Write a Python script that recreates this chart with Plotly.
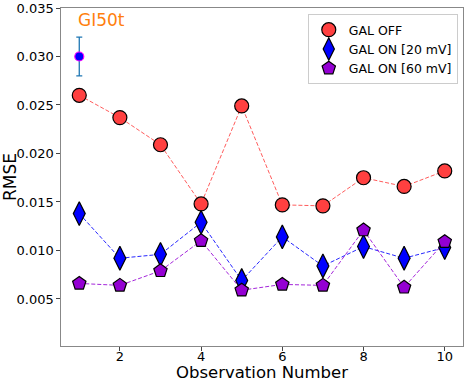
import plotly.graph_objects as go

obs = [1, 2, 3, 4, 5, 6, 7, 8, 9, 10]
gal_off = [0.0260, 0.0237, 0.0209, 0.0148, 0.0249, 0.0147, 0.0146, 0.0175, 0.0166, 0.0182]
gal_on_20 = [0.0138, 0.0092, 0.0096, 0.0129, 0.0069, 0.0114, 0.0084, 0.0104, 0.0092, 0.0103]
gal_on_60 = [0.0066, 0.0064, 0.0079, 0.0110, 0.0059, 0.0065, 0.0064, 0.0121, 0.0062, 0.0109]
gi50t_x = [1]
gi50t_y = [0.030]
gi50t_err = [0.002]

series = [
    ('GAL OFF', gal_off, 'rgba(255,64,64,1)', 'rgba(255,64,64,0.85)', 'circle', 14),
    ('GAL ON [20 mV]', gal_on_20, 'rgb(0,0,255)', 'rgba(0,0,255,0.85)', 'diamond-tall', 17),
    ('GAL ON [60 mV]', gal_on_60, 'rgb(148,0,211)', 'rgba(148,0,211,0.85)', 'pentagon', 14),
]

fig = go.Figure()

for name, vals, col, lcol, sym, sz in series:  # gestrichelte Verbindungslinien
    fig.add_trace(go.Scatter(x=obs, y=vals, mode='lines', showlegend=False,
                             line=dict(color=lcol, width=1, dash='4px,2px')))

for name, vals, col, lcol, sym, sz in series:  # Marker mit Legende
    fig.add_trace(go.Scatter(x=obs, y=vals, mode='markers', name=name,
                             marker=dict(symbol=sym, size=sz, color=col,
                                         line=dict(color='black', width=1.2))))

fig.add_trace(go.Scatter(  # GI50t Punkt mit Fehlerbalken
    x=gi50t_x, y=gi50t_y, mode='markers', showlegend=False,
    error_y=dict(type='data', array=gi50t_err, color='#1f77b4', thickness=1.3, width=3),
    marker=dict(size=9, color='blue', line=dict(color='magenta', width=1.2))))

fig.add_annotation(x=1.54, y=0.0338, text='GI50t', showarrow=False,
                   xanchor='center', yanchor='middle',
                   font=dict(color='#ff7f0e', size=17, family='DejaVu Sans'))

# Achsentitel als Annotationen, damit die Position genau passt
fig.add_annotation(xref='paper', yref='paper', x=0.5, y=-0.078, text='Observation Number',
                   showarrow=False, xanchor='center', yanchor='middle', font=dict(size=16.5))
fig.add_annotation(xref='paper', yref='paper', x=-0.127, y=0.5, text='RMSE', textangle=-90,
                   showarrow=False, xanchor='center', yanchor='middle', font=dict(size=17))

axis_style = dict(showline=True, linecolor='#888888', linewidth=1.2, mirror=True,
                  ticks='outside', ticklen=3.5, tickcolor='#444444', showgrid=False,
                  zeroline=False, automargin=False, tickfont=dict(size=13, color='black'))

fig.update_layout(
    width=471, height=381,
    margin=dict(l=61, r=8, t=8, b=35),
    paper_bgcolor='white', plot_bgcolor='white',
    font=dict(family='DejaVu Sans', color='black'),
    legend=dict(x=0.987, y=0.982, xanchor='right', yanchor='top',
                bgcolor='rgba(255,255,255,0.8)', bordercolor='#cccccc', borderwidth=1,
                font=dict(size=12.5), itemwidth=30, tracegroupgap=0),
)
fig.update_xaxes(range=[0.55, 10.45], tickvals=[2, 4, 6, 8, 10], ticklabelstandoff=-5,
                 **axis_style)
fig.update_yaxes(range=[0.00015, 0.035], tickvals=[0.005, 0.010, 0.015, 0.020, 0.025, 0.030, 0.035],
                 tickformat='.3f', **axis_style)

fig.write_html('out.html', config={'displayModeBar': False},
               post_script="document.body.style.margin='0';")
